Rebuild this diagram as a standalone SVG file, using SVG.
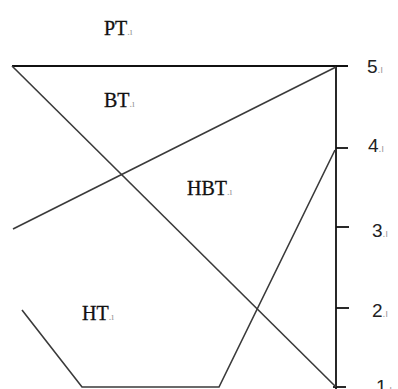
<svg xmlns="http://www.w3.org/2000/svg" width="398" height="389" viewBox="0 0 398 389">
<style>
.ln{fill:none;stroke:#3a3a3a;stroke-width:1.6}
.ax{fill:none;stroke:#111;stroke-width:1.8}
.lab{font-family:"Liberation Serif",serif;font-size:20px;fill:#111;stroke:#111;stroke-width:0.3}
.num{font-family:"Liberation Sans",sans-serif;font-size:19px;fill:#222}
.pm{font-size:10px;fill:#999;stroke:none}
</style>
<rect width="398" height="389" fill="#fff"/>
<g id="connectors">
<line class="ax" x1="12" y1="66" x2="348" y2="66"/>
<line class="ax" x1="336" y1="66" x2="336" y2="389"/>
<line class="ax" x1="336" y1="148" x2="348" y2="148"/>
<line class="ax" x1="336" y1="227" x2="349" y2="227"/>
<line class="ax" x1="336" y1="308" x2="349" y2="308"/>
<line class="ax" x1="333" y1="387" x2="346" y2="387"/>
<line class="ln" x1="12" y1="66" x2="336" y2="387"/>
<line class="ln" x1="13" y1="229" x2="336" y2="67"/>
<polyline class="ln" points="22,310 82,387 219,387 335,150"/>
</g>
<g id="PT"><text class="lab" x="104" y="35">PT<tspan class="pm">.ı</tspan></text></g>
<g id="BT"><text class="lab" x="104" y="107">BT<tspan class="pm">.ı</tspan></text></g>
<g id="HBT"><text class="lab" x="187" y="195">HBT<tspan class="pm">.ı</tspan></text></g>
<g id="HT"><text class="lab" x="82" y="320">HT<tspan class="pm">.ı</tspan></text></g>
<g id="n5"><text class="num" x="367" y="73">5<tspan class="pm">.ı</tspan></text></g>
<g id="n4"><text class="num" x="368" y="152">4<tspan class="pm">.ı</tspan></text></g>
<g id="n3"><text class="num" x="372" y="237">3<tspan class="pm">.ı</tspan></text></g>
<g id="n2"><text class="num" x="372" y="317">2<tspan class="pm">.ı</tspan></text></g>
<g id="n1"><text class="num" x="376" y="393">1<tspan class="pm">.ı</tspan></text></g>
</svg>
